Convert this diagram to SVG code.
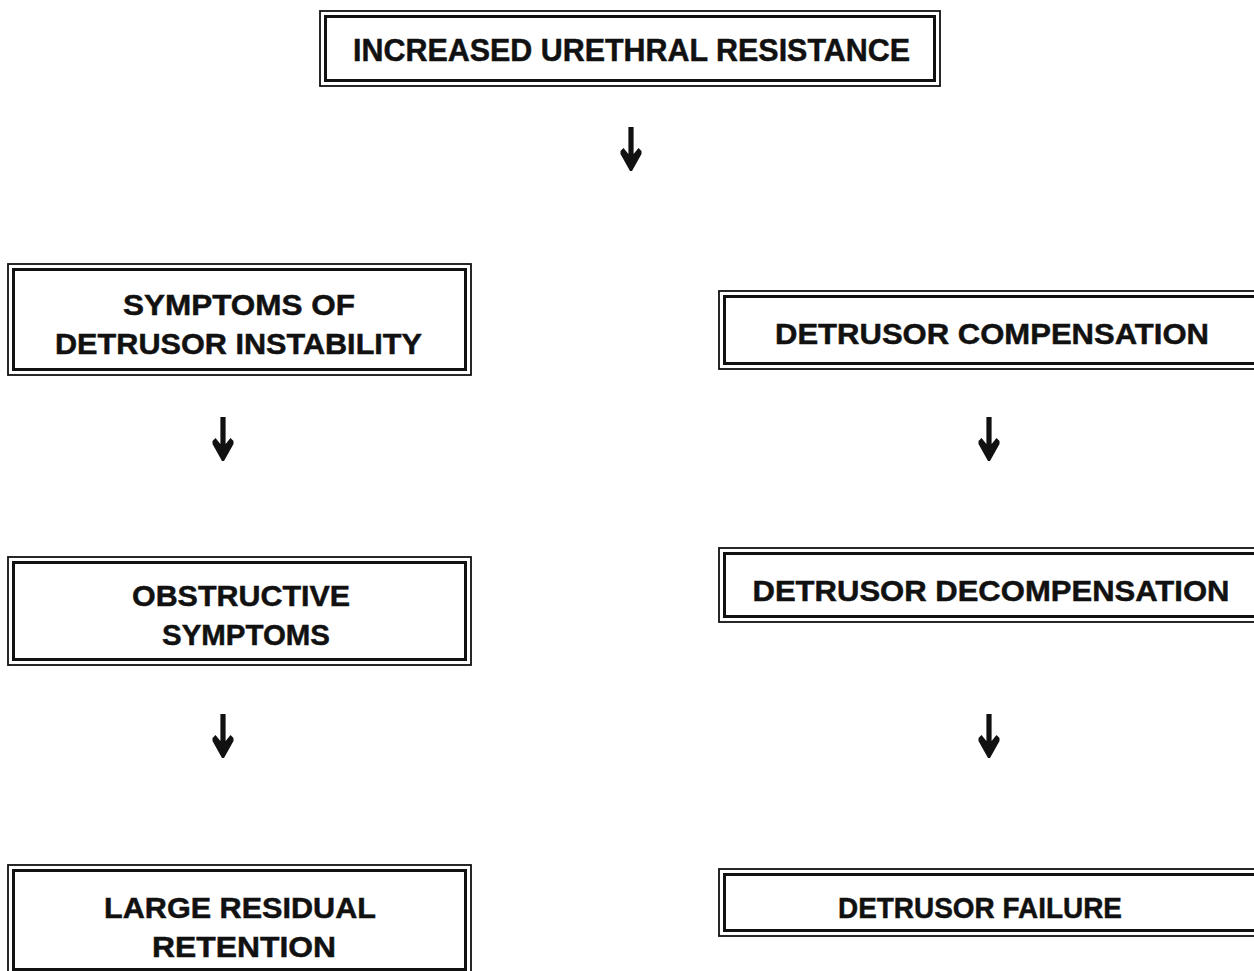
<svg xmlns="http://www.w3.org/2000/svg" width="1254" height="971" viewBox="0 0 1254 971">
<style>
.o{fill:none;stroke:#111;stroke-width:1.8}
.i{fill:none;stroke:#111;stroke-width:3}
.t{font-family:"Liberation Sans",Arial,sans-serif;font-weight:bold;font-size:30px;fill:#111;stroke:#111;stroke-width:0.5;text-anchor:middle}
.big{font-size:32px}
.h{fill:#111}
</style>
<defs>
<path id="arr" class="h" d="M-2.6,0 L2.6,0 L2.6,27 L7.5,21 L10.5,24 L10.5,27 L1,44 L-1,44 L-10.5,27 L-10.5,24 L-7.5,21 L-2.6,27 Z"/>
</defs>
<rect width="1254" height="971" fill="#fff"/>
<g id="n_top">
<rect class="o" x="320" y="11" width="620" height="75"/>
<rect class="i" x="325.5" y="16.5" width="609" height="64"/>
<text class="t big" x="631.5" y="61" textLength="557" lengthAdjust="spacingAndGlyphs">INCREASED URETHRAL RESISTANCE</text>
</g>
<g id="n_instab">
<rect class="o" x="8" y="264" width="463" height="111"/>
<rect class="i" x="13.5" y="269.5" width="452" height="100"/>
<text class="t" x="239" y="315" textLength="232" lengthAdjust="spacingAndGlyphs">SYMPTOMS OF</text>
<text class="t" x="238.5" y="354" textLength="367" lengthAdjust="spacingAndGlyphs">DETRUSOR INSTABILITY</text>
</g>
<g id="n_obstr">
<rect class="o" x="8" y="557" width="463" height="108"/>
<rect class="i" x="13.5" y="562.5" width="452" height="97"/>
<text class="t" x="241" y="606" textLength="218" lengthAdjust="spacingAndGlyphs">OBSTRUCTIVE</text>
<text class="t" x="246" y="645" textLength="168" lengthAdjust="spacingAndGlyphs">SYMPTOMS</text>
</g>
<g id="n_resid">
<rect class="o" x="8" y="865" width="463" height="110"/>
<rect class="i" x="13.5" y="870.5" width="452" height="99"/>
<text class="t" x="240" y="918" textLength="272" lengthAdjust="spacingAndGlyphs">LARGE RESIDUAL</text>
<text class="t" x="244" y="957" textLength="184" lengthAdjust="spacingAndGlyphs">RETENTION</text>
</g>
<g id="n_comp">
<rect class="o" x="719" y="291" width="560" height="78"/>
<rect class="i" x="724.5" y="296.5" width="560" height="67"/>
<text class="t" x="992" y="344" textLength="434" lengthAdjust="spacingAndGlyphs">DETRUSOR COMPENSATION</text>
</g>
<g id="n_decomp">
<rect class="o" x="719" y="548" width="560" height="74"/>
<rect class="i" x="724.5" y="553.5" width="560" height="63"/>
<text class="t" x="991" y="601" textLength="477" lengthAdjust="spacingAndGlyphs">DETRUSOR DECOMPENSATION</text>
</g>
<g id="n_fail">
<rect class="o" x="719" y="869" width="560" height="67"/>
<rect class="i" x="724.5" y="874.5" width="560" height="56"/>
<text class="t" x="980" y="918" textLength="284" lengthAdjust="spacingAndGlyphs">DETRUSOR FAILURE</text>
</g>
<g id="connectors">
<use href="#arr" x="631" y="127"/>
<use href="#arr" x="223" y="417"/>
<use href="#arr" x="223" y="714"/>
<use href="#arr" x="989" y="417"/>
<use href="#arr" x="989" y="714"/>
</g>
</svg>
